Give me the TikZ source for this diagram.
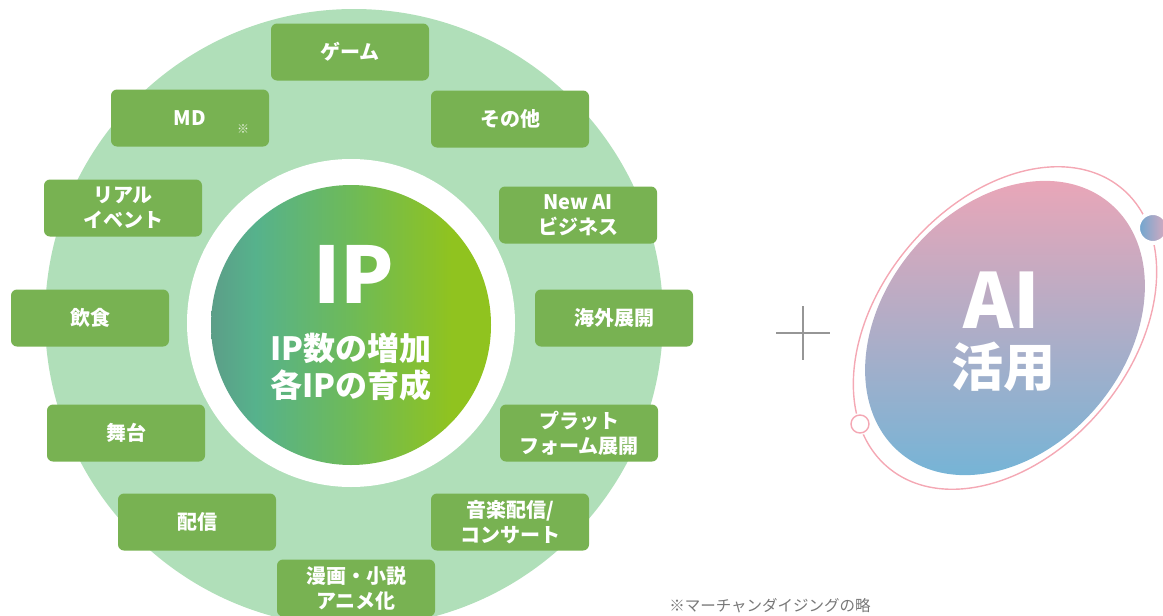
\documentclass[tikz,border=0pt]{standalone}
\usepackage{fontspec}
\setmainfont{Noto Sans CJK JP}
\definecolor{ringgreen}{RGB}{176,223,185}
\definecolor{boxgreen}{RGB}{120,178,82}
\definecolor{ipA}{RGB}{92,158,136}
\definecolor{ipB}{RGB}{86,178,140}
\definecolor{ipC}{RGB}{110,186,88}
\definecolor{ipD}{RGB}{144,195,31}
\definecolor{aipink}{RGB}{233,166,184}
\definecolor{aiblue}{RGB}{118,180,214}
\definecolor{ringpink}{RGB}{244,168,180}
\definecolor{dotblue}{RGB}{108,166,208}
\definecolor{dotpink}{RGB}{222,170,190}
\definecolor{notegray}{RGB}{120,120,120}
\definecolor{plusgray}{RGB}{150,150,150}
\pgfdeclarehorizontalshading{ipshade}{100bp}{color(0bp)=(ipA); color(25bp)=(ipA); color(33bp)=(ipB); color(50bp)=(ipC); color(68bp)=(ipD); color(100bp)=(ipD)}

\begin{document}
\begin{tikzpicture}[x=1pt,y=-1pt,
    item/.style={fill=boxgreen, rounded corners=6pt, minimum width=158pt, minimum height=57pt,
      inner sep=0pt, text=white, align=center, font=\bfseries\fontsize{20}{25}\selectfont}]
\useasboundingbox (0,0) rectangle (1163,616);
\clip (0,0) rectangle (1163,616);
\fill[ringgreen] (354,318) circle (309pt);
\fill[white] (351,323) circle (164pt);
\shade[shading=ipshade] (351,325) circle (140pt);
\node[text=white, font=\bfseries\fontsize{78}{80}\selectfont] (ip) at (354,274) {IP};
\node[text=white, font=\bfseries\fontsize{32}{37}\selectfont, align=center] (ipgoal) at (351,367) {IP数の増加\\各IPの育成};
\node[item] (game) at (350,52) {ゲーム};
\node[item] (md) at (190,118) {MD};
\node[text=white!85!boxgreen, font=\fontsize{12}{13}\selectfont] (mdmark) at (243,129) {※};
\node[item] (other) at (510,119) {その他};
\node[item] (realevent) at (123,208) {リアル\\イベント};
\node[item] (newai) at (578,215) {New AI\\ビジネス};
\node[item] (food) at (90,318) {飲食};
\node[item] (overseas) at (614,318) {海外展開};
\node[item] (stage) at (126,433) {舞台};
\node[item] (platform) at (579,433) {プラット\\フォーム展開};
\node[item] (stream) at (197,522) {配信};
\node[item] (music) at (510,522) {音楽配信/\\コンサート};
\node[item] (manga) at (356,588) {漫画・小説\\アニメ化};
\coordinate (plusL) at (776,333);
\coordinate (plusR) at (830,333);
\coordinate (plusT) at (803,306);
\coordinate (plusB) at (803,360);
\draw[plusgray, line width=1.8pt] (plusL) -- (plusR) (plusT) -- (plusB);
\begin{scope}[shift={(1005,328)}]
\draw[ringpink, line width=1.4pt] (0,0) ellipse [x radius=182pt, y radius=126pt, rotate=50];
\shade[top color=aipink, bottom color=aiblue] (0,0) ellipse [x radius=163pt, y radius=121pt, rotate=50];
\end{scope}
\shade[draw=white, line width=4pt, left color=dotblue, right color=dotpink] (1153,228) circle (15pt);
\draw[white, line width=4pt] (860,424) circle (9pt);
\draw[ringpink, line width=1.4pt, fill=white] (860,424) circle (9pt);
\node[text=white, font=\bfseries\fontsize{76}{78}\selectfont] (ai) at (1002,300) {AI};
\node[text=white, font=\bfseries\fontsize{52}{54}\selectfont] (aiuse) at (1003,367) {活用};
\node[text=notegray, font=\fontsize{15.5}{18}\selectfont] (note) at (770,606) {※マーチャンダイジングの略};
\end{tikzpicture}
\end{document}
